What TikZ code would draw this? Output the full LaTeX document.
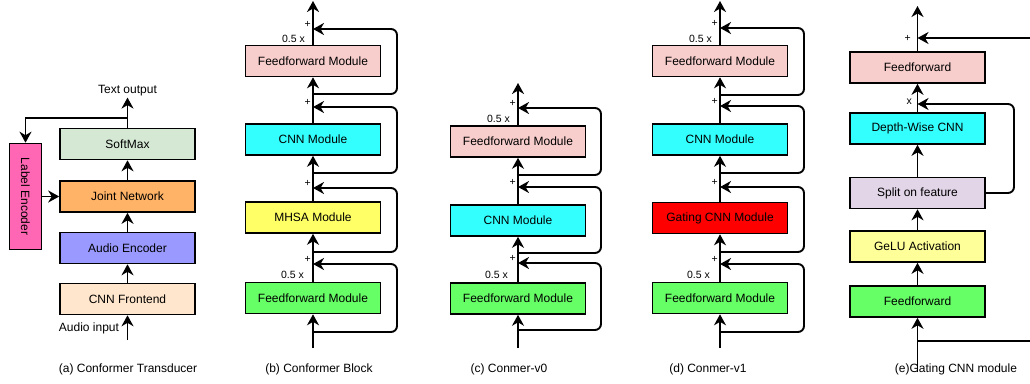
\documentclass[tikz,border=0pt]{standalone}
\usepackage{fontspec}
\setmainfont{Liberation Sans}
\usepackage{tikz}
\usetikzlibrary{arrows.meta,positioning}
\definecolor{sgreen}{HTML}{D5E8D4}
\definecolor{jorange}{HTML}{FFB366}
\definecolor{aviolet}{HTML}{9999FF}
\definecolor{cpeach}{HTML}{FFE6CC}
\definecolor{lpink}{HTML}{FF66B3}
\definecolor{ffpink}{HTML}{F8CECC}
\definecolor{mcyan}{HTML}{33FFFF}
\definecolor{myellow}{HTML}{FFFF66}
\definecolor{ffgreen}{HTML}{66FF66}
\definecolor{mred}{HTML}{FF0000}
\definecolor{lavender}{HTML}{E1D5E7}
\definecolor{lyellow}{HTML}{FFFF99}
\tikzset{
  blk/.style    ={draw=black, line width=1.6pt, fill=#1, minimum width=135pt, minimum height=31pt,
                  inner sep=0pt, font=\fontsize{12}{14}\selectfont},
  flow/.style   ={-{Stealth[length=11pt,width=12pt,inset=3.5pt]}, line width=1.9pt},
  loop/.style   ={flow, rounded corners=6pt},
  lbl/.style    ={font=\fontsize{12}{14}\selectfont, inner sep=1pt},
  small/.style  ={font=\fontsize{10.5}{12}\selectfont, inner sep=1pt},
}

\begin{document}
\begin{tikzpicture}[x=1pt,y=-1pt]
\useasboundingbox (0,0) rectangle (1030,383);
% (a) transducer
\node[blk=cpeach]  (cnnf)  at (127.5,299)   {CNN Frontend};
\node[blk=aviolet] (aenc)  at (127.5,248)   {Audio Encoder};
\node[blk=jorange] (joint) at (127.5,196.5) {Joint Network};
\node[blk=sgreen]  (soft)  at (127.5,144)   {SoftMax};
\node[blk=lpink, minimum width=106pt, minimum height=32pt, rotate=-90] (lenc) at (25.5,196.5) {Label Encoder};
\node[lbl] (tout) at (127.5,91) {Text output};
\node[lbl] (ain)  at (89,328)   {Audio input};
\coordinate (ainp) at (127.5,340);
\coordinate (asplit) at (127.5,118);
\draw[flow] (ainp) -- (cnnf);
\draw[flow] (cnnf) -- (aenc);
\draw[flow] (aenc) -- (joint);
\draw[flow] (joint) -- (soft);
\draw[flow] (soft) -- (tout);
\draw[flow] (asplit) -| (lenc);
\draw[flow] (lenc) -- (joint);
% (b) conformer block
\node[blk=ffgreen] (bff1) at (313,298)   {Feedforward Module};
\node[blk=myellow] (bmhsa) at (313,217.5) {MHSA Module};
\node[blk=mcyan]   (bcnn) at (313,139.5) {CNN Module};
\node[blk=ffpink]  (bff2) at (313,61)    {Feedforward Module};
\coordinate (bin) at (313,348);
\coordinate (bout) at (313,1);
\draw[flow] (bin) -- (bff1);
\draw[flow] (bff1) -- (bmhsa);
\draw[flow] (bmhsa) -- (bcnn);
\draw[flow] (bcnn) -- (bff2);
\draw[flow] (bff2) -- (bout);
\foreach \s/\j [count=\i] in {332/264,252/188,173/107,94/29} {
  \coordinate (bs\i) at (313,\s);
  \coordinate (bj\i) at (313,\j);
  \draw[loop] (bs\i) -- ++(84,0) |- (bj\i);
  \node[small, anchor=south east] (bp\i) at (312,\j) {+};
}
\node[small, anchor=south east] (bh1) at (305,280) {0.5 x};
\node[small, anchor=south east] (bh2) at (306,44) {0.5 x};
% (c) conmer-v0
\node[blk=ffgreen] (cff1) at (518,298.5) {Feedforward Module};
\node[blk=mcyan]   (ccnn) at (518,220.5) {CNN Module};
\node[blk=ffpink]  (cff2) at (518,141.5) {Feedforward Module};
\coordinate (cin) at (518,348);
\coordinate (cout) at (518,83);
\draw[flow] (cin) -- (cff1);
\draw[flow] (cff1) -- (ccnn);
\draw[flow] (ccnn) -- (cff2);
\draw[flow] (cff2) -- (cout);
\foreach \s/\j [count=\i] in {330/263,253/187,175/108} {
  \coordinate (cs\i) at (518,\s);
  \coordinate (cj\i) at (518,\j);
  \draw[loop] (cs\i) -- ++(83,0) |- (cj\i);
  \node[small, anchor=south east] (cp\i) at (517,\j) {+};
}
\node[small, anchor=south east] (ch1) at (509,280) {0.5 x};
\node[small, anchor=south east] (ch2) at (511,124) {0.5 x};
% (d) conmer-v1
\node[blk=ffgreen] (dff1) at (720,298)   {Feedforward Module};
\node[blk=mred]    (dgate) at (720,218)  {Gating CNN Module};
\node[blk=mcyan]   (dcnn) at (720,139.5) {CNN Module};
\node[blk=ffpink]  (dff2) at (720,61)    {Feedforward Module};
\coordinate (din) at (720,348);
\coordinate (dout) at (720,1);
\draw[flow] (din) -- (dff1);
\draw[flow] (dff1) -- (dgate);
\draw[flow] (dgate) -- (dcnn);
\draw[flow] (dcnn) -- (dff2);
\draw[flow] (dff2) -- (dout);
\foreach \s/\j [count=\i] in {332/264,252/187,173/106,95/28} {
  \coordinate (ds\i) at (720,\s);
  \coordinate (dj\i) at (720,\j);
  \draw[loop] (ds\i) -- ++(84,0) |- (dj\i);
  \node[small, anchor=south east] (dp\i) at (719,\j) {+};
}
\node[small, anchor=south east] (dh1) at (711,280) {0.5 x};
\node[small, anchor=south east] (dh2) at (713,44) {0.5 x};
% (e) gating cnn module
\node[blk=ffgreen]  (eff1)   at (917.5,301.5) {Feedforward};
\node[blk=lyellow]  (egelu)  at (917.5,246.5) {GeLU Activation};
\node[blk=lavender] (esplit) at (917.5,193)   {Split on feature};
\node[blk=mcyan]    (edw)    at (917.5,128.5) {Depth-Wise CNN};
\node[blk=ffpink]   (eff2)   at (917.5,67.5)  {Feedforward};
\coordinate (ein) at (917.5,372);
\coordinate (eout) at (917.5,6);
\coordinate (es0) at (917.5,341);
\coordinate (ej0) at (917.5,38);
\coordinate (ej1) at (917.5,104);
\draw[flow] (ein) -- (eff1);
\draw[flow] (eff1) -- (egelu);
\draw[flow] (egelu) -- (esplit);
\draw[flow] (esplit) -- (edw);
\draw[flow] (edw) -- (eff2);
\draw[flow] (eff2) -- (eout);
\draw[loop] (es0) -- (1045,341) |- (ej0);
\draw[loop] (esplit.east) -- (1014,193) |- (ej1);
\node[small, anchor=east] (ep0) at (912,38) {+};
\node[small, anchor=east] (ex1) at (913,102) {x};
% captions
\node[lbl] (capa) at (128,369) {(a) Conformer Transducer};
\node[lbl] (capb) at (319,369) {(b) Conformer Block};
\node[lbl] (capc) at (509,369) {(c) Conmer-v0};
\node[lbl] (capd) at (708,369) {(d) Conmer-v1};
\node[lbl] (cape) at (956,369) {(e)Gating CNN module};
\end{tikzpicture}
\end{document}
